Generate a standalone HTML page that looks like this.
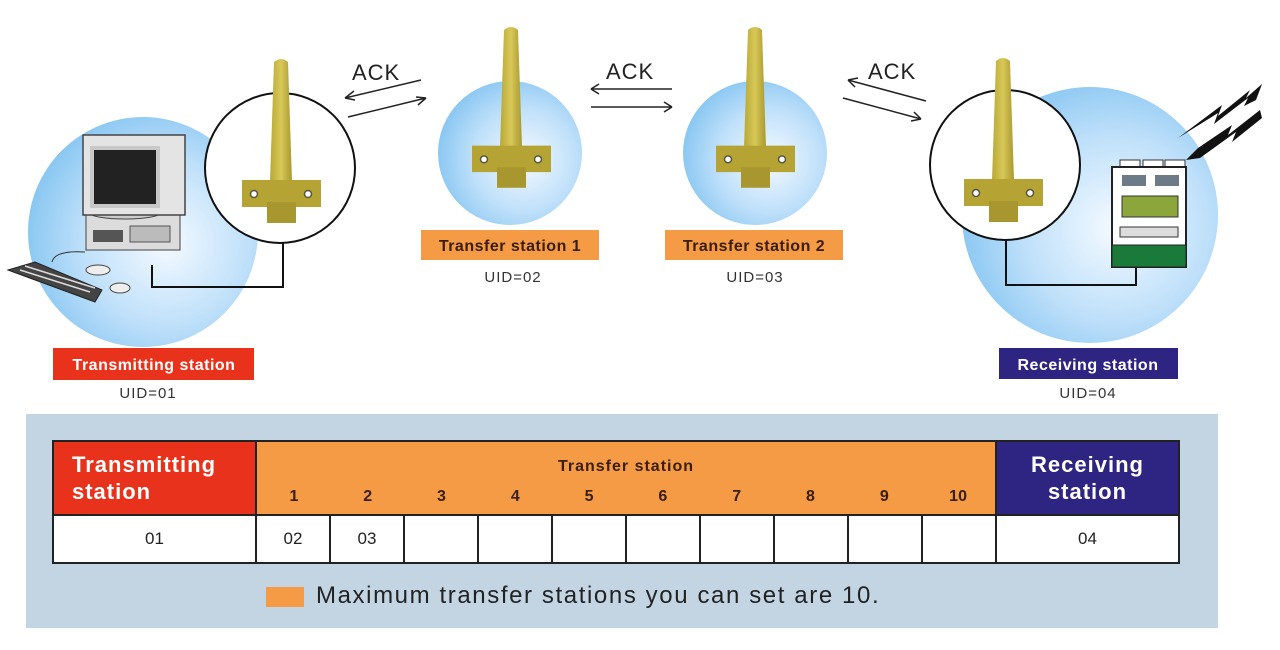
<!DOCTYPE html>
<html><head><meta charset="utf-8"><style>
body{margin:0;width:1280px;height:650px;background:#fff;overflow:hidden;font-family:"Liberation Sans",sans-serif;position:relative}
svg{position:absolute;left:0;top:0}
.panel{position:absolute;left:26px;top:414px;width:1192px;height:214px;background:#c3d5e3}
table{position:absolute;left:52px;top:440px;border-collapse:collapse;table-layout:fixed}
td{border:2px solid #222;padding:0;text-align:center;font-size:17px;color:#222}
.h td{height:72px;font-weight:bold;color:#fff}
.r td{height:46px;background:#fff}
.leg{position:absolute;left:266px;top:587px;width:38px;height:20px;background:#f59b45}
.legt{position:absolute;left:316px;top:582px;font-size:24px;color:#222;letter-spacing:1.6px}
</style></head><body>
<svg width="1280" height="650" viewBox="0 0 1280 650">
<defs>
<radialGradient id="bg" cx="0.6" cy="0.55" r="0.6"><stop offset="0" stop-color="#f4faff"/><stop offset="0.6" stop-color="#bfe0fa"/><stop offset="1" stop-color="#8cc8f2"/></radialGradient>
<linearGradient id="ant" x1="0" x2="1"><stop offset="0" stop-color="#b8a838"/><stop offset="0.5" stop-color="#d8c858"/><stop offset="1" stop-color="#a89830"/></linearGradient>
<g id="antenna">
<path d="M-7,0 Q0,-6 7,0 L11,120 L-11,120 Z" fill="url(#ant)"/>
<rect x="-39" y="118" width="79" height="27" fill="#b5a434"/>
<rect x="-14" y="140" width="29" height="21" fill="#a8972e"/>
<circle cx="-27" cy="132" r="3.5" fill="#fff" stroke="#554" stroke-width="1.5"/>
<circle cx="27" cy="132" r="3.5" fill="#fff" stroke="#554" stroke-width="1.5"/>
</g>
</defs>
<circle cx="143" cy="232" r="115" fill="url(#bg)"/>
<circle cx="280" cy="168" r="75" fill="#fff" stroke="#111" stroke-width="2"/>
<path d="M152,265 V287 H283 V243" fill="none" stroke="#111" stroke-width="2"/>
<rect x="86" y="205" width="94" height="45" fill="#dcdcdc" stroke="#444"/>
<rect x="93" y="230" width="30" height="12" fill="#555"/>
<rect x="130" y="226" width="40" height="16" fill="#bbb" stroke="#555"/>
<ellipse cx="125" cy="213" rx="35" ry="6" fill="#ccc" stroke="#444"/>
<rect x="83" y="135" width="102" height="80" fill="#e4e4e4" stroke="#444" stroke-width="1.5"/>
<rect x="90" y="146" width="70" height="62" fill="#c8c8c8"/>
<rect x="94" y="150" width="62" height="54" fill="#222"/>
<path d="M8,270 L35,262 L102,290 L95,302 Z" fill="#444" stroke="#222"/>
<path d="M20,270 L90,292 M25,266 L95,288" stroke="#ddd" stroke-width="1.5"/>
<ellipse cx="98" cy="270" rx="12" ry="5" fill="#eee" stroke="#444"/>
<ellipse cx="120" cy="288" rx="10" ry="5" fill="#eee" stroke="#444"/>
<path d="M85,252 Q55,250 52,262" fill="none" stroke="#333"/>
<use href="#antenna" transform="translate(281,62)"/>
<circle cx="510" cy="153" r="72" fill="url(#bg)"/>
<use href="#antenna" transform="translate(511,30) scale(1,0.98)"/>
<circle cx="755" cy="153" r="72" fill="url(#bg)"/>
<use href="#antenna" transform="translate(755,30) scale(1,0.98)"/>
<circle cx="1090" cy="215" r="128" fill="url(#bg)"/>
<circle cx="1005" cy="165" r="75" fill="#fff" stroke="#111" stroke-width="2"/>
<path d="M1006,240 V285 H1136 V267" fill="none" stroke="#111" stroke-width="2"/>
<use href="#antenna" transform="translate(1003,61)"/>
<rect x="1120" y="160" width="20" height="8" fill="#fff" stroke="#333"/>
<rect x="1143" y="160" width="20" height="8" fill="#fff" stroke="#333"/>
<rect x="1165" y="160" width="20" height="8" fill="#fff" stroke="#333"/>
<rect x="1112" y="167" width="74" height="100" fill="#fff" stroke="#222" stroke-width="2"/>
<rect x="1122" y="175" width="24" height="11" fill="#6d7a88"/>
<rect x="1155" y="175" width="24" height="11" fill="#6d7a88"/>
<rect x="1122" y="196" width="56" height="21" fill="#8ca63c" stroke="#333"/>
<rect x="1120" y="227" width="58" height="10" fill="#ddd" stroke="#333"/>
<rect x="1112" y="245" width="74" height="22" fill="#1a7a3a" stroke="#222"/>
<path d="M1178,138 L1222,105 L1218,116 L1250,90 L1246,98 L1262,84 L1256,100 L1244,106 L1248,98 L1214,124 L1218,113 Z" fill="#111"/>
<path d="M1186,160 L1198,148 L1232,125 L1228,135 L1260,110 L1262,118 L1232,142 L1236,132 L1200,158 Z" fill="#111"/>
<g font-size="22" fill="#222" font-family="Liberation Sans,sans-serif" letter-spacing="1">
<text x="352" y="80">ACK</text><text x="606" y="79">ACK</text><text x="868" y="79">ACK</text></g>
<g stroke="#222" stroke-width="1.5" fill="none">
<path d="M421,80 L345,98 M345,98 l9,-7 M345,98 l10,2"/>
<path d="M348,117 L426,98 M426,98 l-10,-1 M426,98 l-8,7"/>
<path d="M672,89 L591,89 M591,89 l8,-5 M591,89 l8,5"/>
<path d="M591,107 L672,107 M672,107 l-8,-5 M672,107 l-8,5"/>
<path d="M926,101 L848,80 M848,80 l10,-2 M848,80 l7,7"/>
<path d="M843,98 L921,119 M921,119 l-10,2 M921,119 l-7,-7"/>
</g>
<rect x="53" y="348" width="201" height="32" fill="#e8321c"/>
<text x="154" y="370" text-anchor="middle" font-size="16" font-weight="bold" fill="#fff" letter-spacing="0.5">Transmitting station</text>
<text x="148" y="398" text-anchor="middle" font-size="15" fill="#333" letter-spacing="1">UID=01</text>
<rect x="421" y="230" width="178" height="30" fill="#f59b45"/>
<text x="510" y="251" text-anchor="middle" font-size="16" font-weight="bold" fill="#3a1e0a" letter-spacing="0.5">Transfer station 1</text>
<text x="513" y="282" text-anchor="middle" font-size="15" fill="#333" letter-spacing="1">UID=02</text>
<rect x="665" y="230" width="178" height="30" fill="#f59b45"/>
<text x="754" y="251" text-anchor="middle" font-size="16" font-weight="bold" fill="#3a1e0a" letter-spacing="0.5">Transfer station 2</text>
<text x="755" y="282" text-anchor="middle" font-size="15" fill="#333" letter-spacing="1">UID=03</text>
<rect x="999" y="348" width="179" height="31" fill="#2e2482"/>
<text x="1088" y="370" text-anchor="middle" font-size="16" font-weight="bold" fill="#fff" letter-spacing="0.5">Receiving station</text>
<text x="1088" y="398" text-anchor="middle" font-size="15" fill="#333" letter-spacing="1">UID=04</text>
</svg>
<div class="panel"></div>
<table>
<colgroup><col style="width:203px"><col style="width:74px"><col style="width:74px"><col style="width:74px"><col style="width:74px"><col style="width:74px"><col style="width:74px"><col style="width:74px"><col style="width:74px"><col style="width:74px"><col style="width:74px"><col style="width:183px"></colgroup>
<tr class="h">
<td style="background:#e8321c;text-align:left;padding-left:18px;font-size:22px;line-height:27px;letter-spacing:1px">Transmitting<br>station</td>
<td colspan="10" style="background:#f59b45;color:#3a1e0a;position:relative;font-size:16px"><div style="position:absolute;top:16px;left:0;right:0;letter-spacing:1px">Transfer station</div><div style="display:flex;position:absolute;top:46px;left:0;right:0"><span style="flex:1">1</span><span style="flex:1">2</span><span style="flex:1">3</span><span style="flex:1">4</span><span style="flex:1">5</span><span style="flex:1">6</span><span style="flex:1">7</span><span style="flex:1">8</span><span style="flex:1">9</span><span style="flex:1">10</span></div></td>
<td style="background:#2e2482;font-size:22px;line-height:27px;letter-spacing:1px">Receiving<br>station</td>
</tr>
<tr class="r"><td>01</td><td>02</td><td>03</td><td></td><td></td><td></td><td></td><td></td><td></td><td></td><td></td><td>04</td></tr>
</table>
<div class="leg"></div>
<div class="legt">Maximum transfer stations you can set are 10.</div>
</body></html>
